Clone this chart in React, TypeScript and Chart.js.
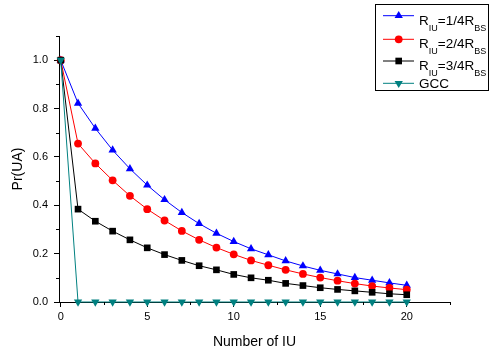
import React, { useEffect, useRef } from "react";
import { Chart, registerables } from "chart.js";

Chart.register(...registerables);

const nIU = [0, 1, 2, 3, 4, 5, 6, 7, 8, 9, 10, 11, 12, 13, 14, 15, 16, 17, 18, 19, 20];
const r1 = [1.0, 0.822, 0.718, 0.628, 0.551, 0.483, 0.423, 0.370, 0.324, 0.284, 0.250, 0.220, 0.195, 0.170, 0.149, 0.131, 0.116, 0.101, 0.090, 0.079, 0.069];
const r2 = [1.0, 0.655, 0.573, 0.503, 0.439, 0.384, 0.337, 0.294, 0.257, 0.225, 0.197, 0.172, 0.152, 0.133, 0.116, 0.101, 0.088, 0.076, 0.066, 0.058, 0.051];
const r3 = [1.0, 0.384, 0.334, 0.293, 0.257, 0.224, 0.196, 0.172, 0.150, 0.133, 0.114, 0.100, 0.090, 0.077, 0.068, 0.059, 0.052, 0.046, 0.040, 0.034, 0.030];
const gcc = [1, 0, 0, 0, 0, 0, 0, 0, 0, 0, 0, 0, 0, 0, 0, 0, 0, 0, 0, 0, 0];

const xTicks = [0, 5, 10, 15, 20];
const xMinor = [2.5, 7.5, 12.5, 17.5, 22.5];
const yTicks = [0, 0.2, 0.4, 0.6, 0.8, 1.0];
const yMinor = [0.1, 0.3, 0.5, 0.7, 0.9, 1.1];

const legendItems = [
  { parts: [{ t: "R" }, { t: "IU", sub: true }, { t: "=1/4R" }, { t: "BS", sub: true }] },
  { parts: [{ t: "R" }, { t: "IU", sub: true }, { t: "=2/4R" }, { t: "BS", sub: true }] },
  { parts: [{ t: "R" }, { t: "IU", sub: true }, { t: "=3/4R" }, { t: "BS", sub: true }] },
  { parts: [{ t: "GCC" }] },
];

const FONT = "'Liberation Sans', Arial, sans-serif";

function pts(arr: number[]) {
  return arr.map((v, i) => ({ x: nIU[i], y: v }));
}

function drawMarker(ctx: CanvasRenderingContext2D, style: string, r: number, rot: number, x: number, y: number, color: string) {
  ctx.save();
  ctx.fillStyle = color;
  ctx.beginPath();
  if (style === "triangle") {
    let rad = (rot * Math.PI) / 180;
    ctx.moveTo(x + Math.sin(rad) * r, y - Math.cos(rad) * r);
    rad += (2 * Math.PI) / 3;
    ctx.lineTo(x + Math.sin(rad) * r, y - Math.cos(rad) * r);
    rad += (2 * Math.PI) / 3;
    ctx.lineTo(x + Math.sin(rad) * r, y - Math.cos(rad) * r);
    ctx.closePath();
  } else if (style === "rect") {
    const s = Math.SQRT1_2 * r;
    ctx.rect(x - s, y - s, 2 * s, 2 * s);
  } else {
    ctx.arc(x, y, r, 0, Math.PI * 2);
  }
  ctx.fill();
  ctx.restore();
}

const extrasPlugin = {
  id: "extras",
  afterDraw(chart: any) {
    const ctx: CanvasRenderingContext2D = chart.ctx;
    const xs = chart.scales.x;
    const ys = chart.scales.y;
    const area = chart.chartArea;
    ctx.save();
    ctx.strokeStyle = "#000";
    ctx.lineWidth = 1;
    ctx.beginPath();
    xMinor.forEach((v) => {
      const px = Math.round(xs.getPixelForValue(v)) + 0.5;
      ctx.moveTo(px, area.bottom);
      ctx.lineTo(px, area.bottom + 3);
    });
    yMinor.forEach((v) => {
      const py = Math.round(ys.getPixelForValue(v)) + 0.5;
      ctx.moveTo(area.left - 3, py);
      ctx.lineTo(area.left, py);
    });
    ctx.stroke();

    // legend
    const bx = 375.5, by = 4.5, bw = 113, bh = 86;
    ctx.strokeStyle = "#000";
    ctx.strokeRect(bx, by, bw, bh);
    const rows = [15.7, 39.3, 61, 83.3];
    const ds = chart.data.datasets;
    legendItems.forEach((item, i) => {
      const d = ds[i];
      const yy = rows[i];
      ctx.strokeStyle = d.borderColor;
      ctx.lineWidth = 1;
      ctx.beginPath();
      ctx.moveTo(383, yy);
      ctx.lineTo(414, yy);
      ctx.stroke();
      drawMarker(ctx, d.pointStyle, d.pointRadius, d.pointRotation || 0, 398.7, yy, d.pointBackgroundColor);
      const hasSub = item.parts.some((p: any) => p.sub);
      const base = hasSub ? yy + 9 : yy + 4.5;
      let x = 419;
      ctx.fillStyle = "#000";
      ctx.textBaseline = "alphabetic";
      ctx.textAlign = "left";
      item.parts.forEach((p: any) => {
        if (p.sub) {
          ctx.font = `9px ${FONT}`;
          ctx.fillText(p.t, x, base + 6);
        } else {
          ctx.font = `13.5px ${FONT}`;
          ctx.fillText(p.t, x, base);
        }
        x += ctx.measureText(p.t).width;
      });
    });
    ctx.restore();
  },
};

export default function App() {
  const ref = useRef<HTMLCanvasElement | null>(null);
  useEffect(() => {
    if (!ref.current) return;
    const chart = new Chart(ref.current, {
      type: "line",
      data: {
        datasets: [
          {
            label: "R_IU=1/4R_BS",
            data: pts(r1),
            borderColor: "#0000ff",
            backgroundColor: "#0000ff",
            pointBackgroundColor: "#0000ff",
            pointBorderColor: "#0000ff",
            pointStyle: "triangle",
            pointRadius: 4.8,
            pointBorderWidth: 0,
            borderWidth: 1,
            order: 4,
            clip: false,
          } as any,
          {
            label: "R_IU=2/4R_BS",
            data: pts(r2),
            borderColor: "#ff0000",
            backgroundColor: "#ff0000",
            pointBackgroundColor: "#ff0000",
            pointBorderColor: "#ff0000",
            pointStyle: "circle",
            pointRadius: 3.9,
            pointBorderWidth: 0,
            borderWidth: 1,
            order: 3,
            clip: false,
          },
          {
            label: "R_IU=3/4R_BS",
            data: pts(r3),
            borderColor: "#000000",
            backgroundColor: "#000000",
            pointBackgroundColor: "#000000",
            pointBorderColor: "#000000",
            pointStyle: "rect",
            pointRadius: 4.7,
            pointBorderWidth: 0,
            borderWidth: 1,
            order: 2,
            clip: false,
          },
          {
            label: "GCC",
            data: pts(gcc),
            borderColor: "#008080",
            backgroundColor: "#008080",
            pointBackgroundColor: "#008080",
            pointBorderColor: "#008080",
            pointStyle: "triangle",
            pointRotation: 180,
            pointRadius: 4.8,
            pointBorderWidth: 0,
            borderWidth: 1,
            order: 1,
            clip: false,
          },
        ],
      },
      options: {
        responsive: false,
        animation: false,
        layout: { padding: { top: 36, right: 41, left: 0, bottom: 0 } },
        plugins: { legend: { display: false }, tooltip: { enabled: false } },
        elements: { line: { tension: 0 } },
        scales: {
          x: {
            type: "linear",
            min: -0.1,
            max: 22.5,
            afterBuildTicks: (s: any) => {
              s.ticks = xTicks.map((v) => ({ value: v }));
            },
            afterFit: (s: any) => {
              s.height = 50;
            },
            ticks: {
              color: "#000",
              font: { family: FONT, size: 11 },
              padding: 3,
              maxRotation: 0,
              autoSkip: false,
              callback: (v: any) => String(v),
            },
            grid: { drawOnChartArea: false, drawTicks: true, tickLength: 5, color: "#000", tickColor: "#000" },
            border: { display: true, color: "#000", width: 1 },
            title: {
              display: true,
              text: "Number of IU",
              color: "#000",
              font: { family: FONT, size: 14 },
              padding: { top: 0, bottom: 1 },
            },
          },
          y: {
            type: "linear",
            min: 0,
            max: 1.1,
            afterBuildTicks: (s: any) => {
              s.ticks = yTicks.map((v) => ({ value: v }));
            },
            afterFit: (s: any) => {
              s.width = 59;
            },
            ticks: {
              color: "#000",
              font: { family: FONT, size: 11 },
              padding: 6,
              autoSkip: false,
              callback: (v: any) => Number(v).toFixed(1),
            },
            grid: { drawOnChartArea: false, drawTicks: true, tickLength: 5, color: "#000", tickColor: "#000" },
            border: { display: true, color: "#000", width: 1 },
            title: {
              display: true,
              text: "Pr(UA)",
              color: "#000",
              font: { family: FONT, size: 14 },
              padding: { top: 10, bottom: 0 },
            },
          },
        },
      },
      plugins: [extrasPlugin],
    });
    return () => chart.destroy();
  }, []);
  return (
    <div style={{ position: "absolute", left: 0, top: 0, width: 491, height: 352, background: "#fff" }}>
      <canvas ref={ref} width={491} height={352} />
    </div>
  );
}
